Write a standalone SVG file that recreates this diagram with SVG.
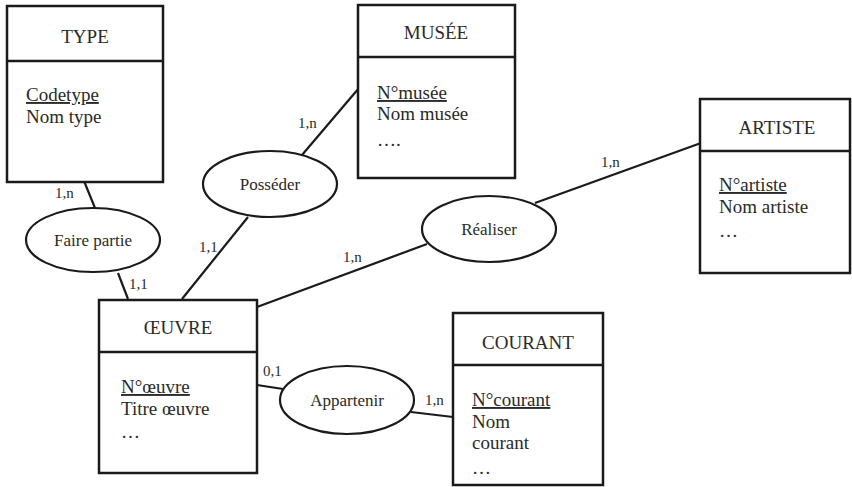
<svg xmlns="http://www.w3.org/2000/svg" width="852" height="487" viewBox="0 0 852 487" font-family="'Liberation Serif', 'Times New Roman', 'DejaVu Serif', serif">
<style>
.box{fill:#fff;stroke:#1a1a1a;stroke-width:2.5}
.div{stroke:#1a1a1a;stroke-width:2.5}
.ell{fill:#fff;stroke:#1a1a1a;stroke-width:2.2}
.ln{stroke:#1a1a1a;stroke-width:2.2;fill:none}
text{font-family:'Liberation Serif','Times New Roman','DejaVu Serif',serif;fill:#2a2a2a}
.t{font-size:19px;text-anchor:middle}
.a{font-size:19px}
.u{text-decoration:underline}
.r{font-size:17px;text-anchor:middle}
.c{font-size:15px}
</style>
<rect width="852" height="487" fill="#fff"/>
<g id="connectors">
<line class="ln" x1="84" y1="181" x2="95" y2="208"/>
<line class="ln" x1="118" y1="273" x2="128" y2="299"/>
<line class="ln" x1="248" y1="217" x2="182" y2="299"/>
<line class="ln" x1="302" y1="155" x2="359" y2="88"/>
<line class="ln" x1="535" y1="203" x2="701" y2="143"/>
<line class="ln" x1="427" y1="244" x2="257" y2="307"/>
<line class="ln" x1="257" y1="385" x2="283" y2="389"/>
<line class="ln" x1="411" y1="412" x2="453" y2="417"/>
<text class="c" x="55" y="198">1,n</text>
<text class="c" x="129" y="289">1,1</text>
<text class="c" x="199" y="252">1,1</text>
<text class="c" x="298" y="128">1,n</text>
<text class="c" x="601" y="167">1,n</text>
<text class="c" x="343" y="262">1,n</text>
<text class="c" x="263" y="376">0,1</text>
<text class="c" x="425" y="405">1,n</text>
</g>
<g id="type">
<rect class="box" x="7" y="6" width="156" height="176"/>
<line class="div" x1="7" y1="61" x2="163" y2="61"/>
<text class="t" x="85" y="43">TYPE</text>
<text class="a u" x="26" y="101">Codetype</text>
<text class="a" x="26" y="123">Nom type</text>
</g>
<g id="musee">
<rect class="box" x="358" y="5" width="157" height="173"/>
<line class="div" x1="358" y1="57" x2="515" y2="57"/>
<text class="t" x="436" y="39">MUSÉE</text>
<text class="a u" x="377" y="99">N°musée</text>
<text class="a" x="377" y="120">Nom musée</text>
<text class="a" x="377" y="146">….</text>
</g>
<g id="artiste">
<rect class="box" x="700" y="99" width="150" height="174"/>
<line class="div" x1="700" y1="151" x2="850" y2="151"/>
<text class="t" x="777" y="134">ARTISTE</text>
<text class="a u" x="719" y="191">N°artiste</text>
<text class="a" x="719" y="213">Nom artiste</text>
<text class="a" x="719" y="237">…</text>
</g>
<g id="oeuvre">
<rect class="box" x="99" y="300" width="158" height="173"/>
<line class="div" x1="99" y1="352" x2="257" y2="352"/>
<text class="t" x="178" y="334">ŒUVRE</text>
<text class="a u" x="121" y="393">N°œuvre</text>
<text class="a" x="121" y="415">Titre œuvre</text>
<text class="a" x="121" y="438">…</text>
</g>
<g id="courant">
<rect class="box" x="453" y="313" width="150" height="172"/>
<line class="div" x1="453" y1="365" x2="603" y2="365"/>
<text class="t" x="528" y="349">COURANT</text>
<text class="a u" x="472" y="406">N°courant</text>
<text class="a" x="472" y="428">Nom</text>
<text class="a" x="472" y="449">courant</text>
<text class="a" x="472" y="474">…</text>
</g>
<g id="faire-partie">
<ellipse class="ell" cx="93" cy="240" rx="67" ry="32"/>
<text class="r" x="93" y="246">Faire partie</text>
</g>
<g id="posseder">
<ellipse class="ell" cx="270" cy="184" rx="67" ry="33"/>
<text class="r" x="270" y="190">Posséder</text>
</g>
<g id="realiser">
<ellipse class="ell" cx="489" cy="229" rx="67" ry="33"/>
<text class="r" x="489" y="235">Réaliser</text>
</g>
<g id="appartenir">
<ellipse class="ell" cx="347" cy="400" rx="67" ry="34"/>
<text class="r" x="347" y="406">Appartenir</text>
</g>
</svg>
